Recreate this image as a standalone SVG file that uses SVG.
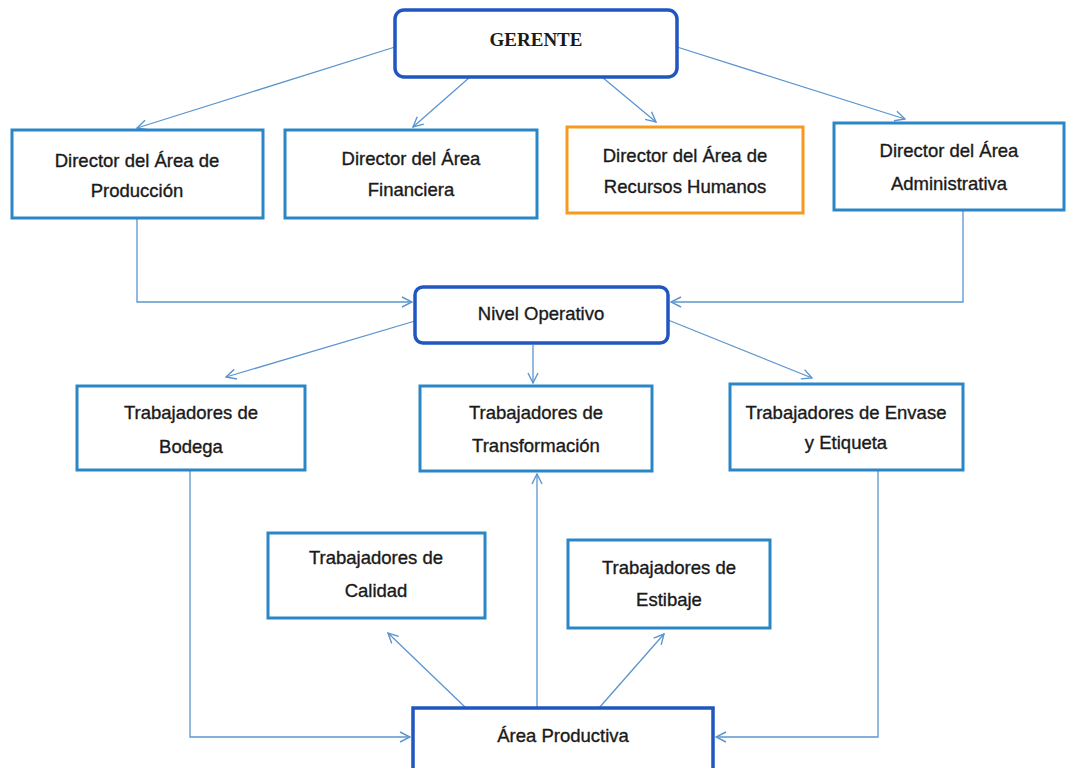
<svg xmlns="http://www.w3.org/2000/svg" width="1071" height="768" viewBox="0 0 1071 768">
<style>
.box{fill:#fff;stroke:#2a86c6;stroke-width:3}
.rbox{fill:#fff;stroke:#1f56c0;stroke-width:3.5}
.obox{fill:#fff;stroke:#f59a1f;stroke-width:3}
.t{font-family:"Liberation Sans",Arial,sans-serif;font-size:18.5px;fill:#1a1a1a;stroke:#1a1a1a;stroke-width:0.35;text-anchor:middle}
.g{font-family:"Liberation Serif","Times New Roman",serif;font-size:19px;font-weight:bold;fill:#1a1a1a;text-anchor:middle}
.c{fill:none;stroke:#5b95d0;stroke-width:1.3}
</style>
<defs>
<marker id="ah" viewBox="0 0 12 12" refX="11" refY="6" markerWidth="12" markerHeight="12" markerUnits="userSpaceOnUse" orient="auto">
<path d="M1,1 L11,6 L1,11" fill="none" stroke="#5b95d0" stroke-width="1.4"/>
</marker>
</defs>
<rect width="1071" height="768" fill="#fff"/>
<g id="connectors">
<path class="c" marker-end="url(#ah)" d="M395,47 L137,128"/>
<path class="c" marker-end="url(#ah)" d="M470,77 L413,127"/>
<path class="c" marker-end="url(#ah)" d="M602,77 L656,122"/>
<path class="c" marker-end="url(#ah)" d="M677,47 L905,119"/>
<path class="c" marker-end="url(#ah)" d="M137,219 L137,302 L412,302"/>
<path class="c" marker-end="url(#ah)" d="M963,211 L963,302 L671,302"/>
<path class="c" marker-end="url(#ah)" d="M415,321 L226,377"/>
<path class="c" marker-end="url(#ah)" d="M533,345 L533,383"/>
<path class="c" marker-end="url(#ah)" d="M668,320 L812,378"/>
<path class="c" marker-end="url(#ah)" d="M190,471 L190,737 L410,737"/>
<path class="c" marker-end="url(#ah)" d="M878,471 L878,737 L716,737"/>
<path class="c" marker-end="url(#ah)" d="M537,708 L537,474"/>
<path class="c" marker-end="url(#ah)" d="M466,708 L388,633"/>
<path class="c" marker-end="url(#ah)" d="M599,708 L664,634"/>
</g>
<g id="gerente"><rect class="rbox" x="395" y="10" width="282" height="67" rx="9"/><text class="g" x="536" y="46">GERENTE</text></g>
<g id="dir-produccion"><rect class="box" x="12" y="130" width="251" height="88"/><text class="t" x="137" y="167">Director del Área de</text><text class="t" x="137" y="197">Producción</text></g>
<g id="dir-financiera"><rect class="box" x="285" y="130" width="252" height="88"/><text class="t" x="411" y="165">Director del Área</text><text class="t" x="411" y="196">Financiera</text></g>
<g id="dir-rrhh"><rect class="obox" x="567" y="127" width="236" height="86"/><text class="t" x="685" y="162">Director del Área de</text><text class="t" x="685" y="193">Recursos Humanos</text></g>
<g id="dir-administrativa"><rect class="box" x="834" y="123" width="230" height="87"/><text class="t" x="949" y="157">Director del Área</text><text class="t" x="949" y="190">Administrativa</text></g>
<g id="nivel-operativo"><rect class="rbox" x="415" y="287" width="253" height="56" rx="8"/><text class="t" x="541" y="320">Nivel Operativo</text></g>
<g id="bodega"><rect class="box" x="77" y="386" width="228" height="84"/><text class="t" x="191" y="419">Trabajadores de</text><text class="t" x="191" y="453">Bodega</text></g>
<g id="transformacion"><rect class="box" x="420" y="386" width="232" height="85"/><text class="t" x="536" y="419">Trabajadores de</text><text class="t" x="536" y="452">Transformación</text></g>
<g id="envase"><rect class="box" x="730" y="384" width="233" height="86"/><text class="t" x="846" y="419">Trabajadores de Envase</text><text class="t" x="846" y="449">y Etiqueta</text></g>
<g id="calidad"><rect class="box" x="268" y="533" width="217" height="85"/><text class="t" x="376" y="564">Trabajadores de</text><text class="t" x="376" y="597">Calidad</text></g>
<g id="estibaje"><rect class="box" x="568" y="540" width="202" height="88"/><text class="t" x="669" y="574">Trabajadores de</text><text class="t" x="669" y="606">Estibaje</text></g>
<g id="area-productiva"><rect class="rbox" x="413" y="708" width="300" height="64"/><text class="t" x="563" y="742">Área Productiva</text></g>
</svg>
